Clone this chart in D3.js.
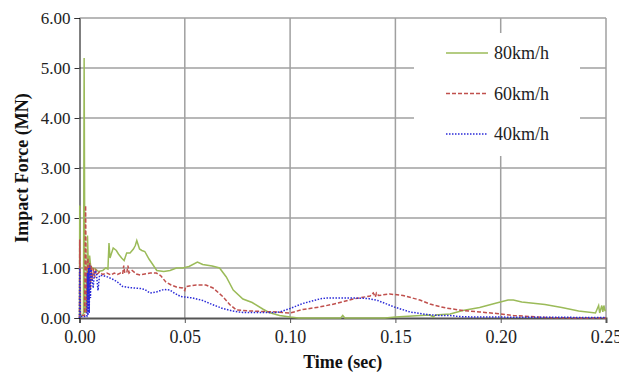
<!DOCTYPE html>
<html>
<head>
<meta charset="utf-8">
<script src="https://cdn.jsdelivr.net/npm/d3@7"></script>
<style>
  html, body { margin: 0; padding: 0; background: #fff; }
  svg { display: block; }
  svg text { font-family: "Liberation Serif", "Times New Roman", serif; }
</style>
</head>
<body>
<div id="chart"></div>
<script>
// tick values
const xTicks = [0, 0.05, 0.10, 0.15, 0.20, 0.25];
const yTicks = [0, 1, 2, 3, 4, 5, 6];

// 80 km/h
const time80 = [0, 0.0001, 0.0003, 0.0005, 0.0015, 0.0019, 0.0022, 0.0026, 0.0033, 0.0038, 0.0043, 0.0048, 0.0055, 0.006, 0.0075, 0.009, 0.011, 0.0125, 0.0135, 0.014, 0.0145, 0.016, 0.0175, 0.0185, 0.02, 0.0212, 0.0224, 0.024, 0.0256, 0.0265, 0.0272, 0.0285, 0.0296, 0.031, 0.033, 0.0343, 0.0367, 0.04, 0.043, 0.046, 0.049, 0.052, 0.056, 0.0585, 0.063, 0.0665, 0.0697, 0.073, 0.0776, 0.082, 0.087, 0.09, 0.095, 0.1, 0.104, 0.124, 0.125, 0.126, 0.145, 0.15, 0.162, 0.1664, 0.168, 0.169, 0.176, 0.182, 0.19, 0.198, 0.2035, 0.206, 0.21, 0.221, 0.229, 0.237, 0.245, 0.2465, 0.247, 0.248, 0.2485, 0.249, 0.2495, 0.25];
const force80 = [0, 2.25, 1.0, 0.05, 0.05, 0.1, 5.2, 0.1, 0.2, 1.65, 0.9, 1.25, 0.95, 1.0, 0.98, 0.93, 0.95, 1.0, 0.98, 1.5, 1.2, 1.4, 1.35, 1.28, 1.2, 1.15, 1.3, 1.3, 1.38, 1.45, 1.55, 1.38, 1.35, 1.33, 1.18, 1.1, 0.95, 0.93, 0.95, 1.0, 1.0, 1.03, 1.12, 1.07, 1.04, 1.0, 0.82, 0.56, 0.38, 0.31, 0.18, 0.11, 0.05, 0.02, 0, 0, 0.05, 0, 0, 0.02, 0.05, 0.06, 0.02, 0.06, 0.08, 0.15, 0.21, 0.3, 0.36, 0.36, 0.32, 0.27, 0.21, 0.14, 0.1, 0.25, 0.1, 0.25, 0.12, 0.25, 0.15, 0.15];

// 60 km/h
const time60 = [0, 0.0001, 0.0004, 0.0024, 0.0029, 0.0033, 0.0037, 0.004, 0.0044, 0.0048, 0.0052, 0.0056, 0.006, 0.0066, 0.0072, 0.0078, 0.0085, 0.0095, 0.011, 0.013, 0.015, 0.0165, 0.018, 0.0195, 0.0205, 0.021, 0.0215, 0.0225, 0.023, 0.0235, 0.025, 0.027, 0.0288, 0.031, 0.0336, 0.0365, 0.0385, 0.041, 0.0435, 0.046, 0.049, 0.05, 0.0505, 0.0555, 0.06, 0.0634, 0.068, 0.0713, 0.0745, 0.081, 0.0935, 0.1, 0.106, 0.114, 0.122, 0.13, 0.138, 0.1395, 0.1405, 0.141, 0.142, 0.1473, 0.1536, 0.1616, 0.1664, 0.171, 0.174, 0.182, 0.19, 0.198, 0.206, 0.214, 0.221, 0.235, 0.25];
const force60 = [0, 1.57, 0.05, 0.05, 2.25, 0.1, 0.8, 1.2, 0.3, 1.1, 0.6, 1.05, 0.75, 1.0, 0.8, 0.95, 0.88, 0.92, 0.87, 0.9, 0.86, 0.9, 0.87, 0.9, 0.88, 1.05, 0.9, 0.92, 1.05, 0.9, 0.95, 0.88, 0.86, 0.88, 0.9, 0.9, 0.85, 0.72, 0.66, 0.62, 0.6, 0.55, 0.63, 0.66, 0.66, 0.6, 0.43, 0.27, 0.16, 0.14, 0.12, 0.1, 0.17, 0.22, 0.29, 0.38, 0.44, 0.5, 0.42, 0.5, 0.45, 0.48, 0.45, 0.36, 0.28, 0.23, 0.2, 0.15, 0.12, 0.09, 0.05, 0.03, 0.01, 0, 0];

// 40 km/h
const time40 = [0, 0.0001, 0.0004, 0.0035, 0.0038, 0.004, 0.0043, 0.0046, 0.0049, 0.0052, 0.0055, 0.006, 0.0065, 0.007, 0.0075, 0.008, 0.0088, 0.0095, 0.011, 0.0128, 0.016, 0.018, 0.0205, 0.0235, 0.026, 0.029, 0.031, 0.0335, 0.0365, 0.04, 0.0428, 0.045, 0.048, 0.0537, 0.0585, 0.063, 0.068, 0.0727, 0.0775, 0.0935, 0.095, 0.1, 0.106, 0.114, 0.117, 0.13, 0.137, 0.1416, 0.1495, 0.157, 0.165, 0.171, 0.176, 0.18, 0.186, 0.25];
const force40 = [0, 1.0, 0.03, 0.03, 0.9, 0.05, 1.0, 0.1, 1.05, 0.4, 0.97, 0.8, 0.6, 0.87, 0.95, 0.9, 0.55, 0.85, 0.85, 0.83, 0.77, 0.72, 0.63, 0.61, 0.6, 0.59, 0.57, 0.5, 0.52, 0.57, 0.56, 0.5, 0.43, 0.4, 0.35, 0.27, 0.19, 0.14, 0.11, 0.11, 0.12, 0.19, 0.29, 0.38, 0.4, 0.4, 0.39, 0.35, 0.22, 0.12, 0.07, 0.05, 0.05, 0.03, 0.02, 0.01];

const seriesNames = ['80km/h', '60km/h', '40km/h'];
const seriesColors = ['#9bbb59', '#c0504d', '#2a2ad8'];
const seriesDash = [null, '4,2', '1.5,1.5'];

const W = 619, H = 377;
const margin = { top: 18, right: 13, bottom: 59, left: 79.5 };
const serif = '"Liberation Serif", "Times New Roman", serif';

const svg = d3.select('#chart').append('svg')
  .attr('width', W)
  .attr('height', H);

const x = d3.scaleLinear().domain([0, 0.25]).range([margin.left, W - margin.right]);
const y = d3.scaleLinear().domain([0, 6]).range([H - margin.bottom, margin.top]);

// gridlines
svg.append('g')
  .selectAll('line.h')
  .data(yTicks.slice(1))
  .enter().append('line')
  .attr('x1', x(0)).attr('x2', x(0.25))
  .attr('y1', d => y(d)).attr('y2', d => y(d))
  .attr('stroke', '#a0a0a0').attr('stroke-width', 1.5);

svg.append('g')
  .selectAll('line.v')
  .data(xTicks.slice(1))
  .enter().append('line')
  .attr('x1', d => x(d)).attr('x2', d => x(d))
  .attr('y1', y(0)).attr('y2', y(6))
  .attr('stroke', '#a0a0a0').attr('stroke-width', 1.5);

// legend box covers the grid
const legend = svg.append('g');
legend.append('rect')
  .attr('x', 414).attr('y', 33)
  .attr('width', 166).attr('height', 123)
  .attr('fill', '#fff');

// axes
const xAxis = svg.append('g')
  .attr('transform', `translate(0,${y(0)})`)
  .call(d3.axisBottom(x).tickValues(xTicks).tickFormat(d3.format('.2f')).tickSize(5).tickPadding(7));
xAxis.select('.domain').attr('stroke', '#555').attr('stroke-width', 2);
xAxis.selectAll('.tick line').attr('stroke', '#555');
xAxis.selectAll('text')
  .style('font-family', serif)
  .style('font-size', '18px')
  .attr('fill', '#222');

const yAxis = svg.append('g')
  .attr('transform', `translate(${x(0)},0)`)
  .call(d3.axisLeft(y).tickValues(yTicks).tickFormat(d3.format('.2f')).tickSize(5).tickPadding(4));
yAxis.select('.domain').attr('stroke', '#000');
yAxis.selectAll('.tick line').attr('stroke', '#333');
yAxis.selectAll('text')
  .style('font-family', serif)
  .style('font-size', '17px')
  .attr('fill', '#222');

// series
const seriesData = [
  d3.zip(time80, force80),
  d3.zip(time60, force60),
  d3.zip(time40, force40)
];

const line = d3.line().x(d => x(d[0])).y(d => y(d[1]));

seriesData.forEach((data, i) => {
  svg.append('path')
    .datum(data)
    .attr('d', line)
    .attr('fill', 'none')
    .attr('stroke', seriesColors[i])
    .attr('stroke-width', 1.5)
    .attr('stroke-dasharray', seriesDash[i]);
});

// legend entries
seriesNames.forEach((name, i) => {
  const ly = 53 + i * 40.5;
  legend.append('line')
    .attr('x1', 446).attr('x2', 488)
    .attr('y1', ly).attr('y2', ly)
    .attr('stroke', seriesColors[i])
    .attr('stroke-width', 1.5)
    .attr('stroke-dasharray', seriesDash[i]);
  legend.append('text')
    .attr('x', 494).attr('y', ly + 6)
    .style('font-size', '18px')
    .attr('fill', '#222')
    .text(name);
});

// axis titles
svg.append('text')
  .attr('x', (x(0) + x(0.25)) / 2)
  .attr('y', 368)
  .attr('text-anchor', 'middle')
  .style('font-size', '18px')
  .style('font-weight', 'bold')
  .attr('fill', '#111')
  .text('Time (sec)');

svg.append('text')
  .attr('transform', `translate(28,${(y(0) + y(6)) / 2}) rotate(-90)`)
  .attr('text-anchor', 'middle')
  .style('font-size', '18px')
  .style('font-weight', 'bold')
  .attr('fill', '#111')
  .text('Impact Force (MN)');
</script>
</body>
</html>
